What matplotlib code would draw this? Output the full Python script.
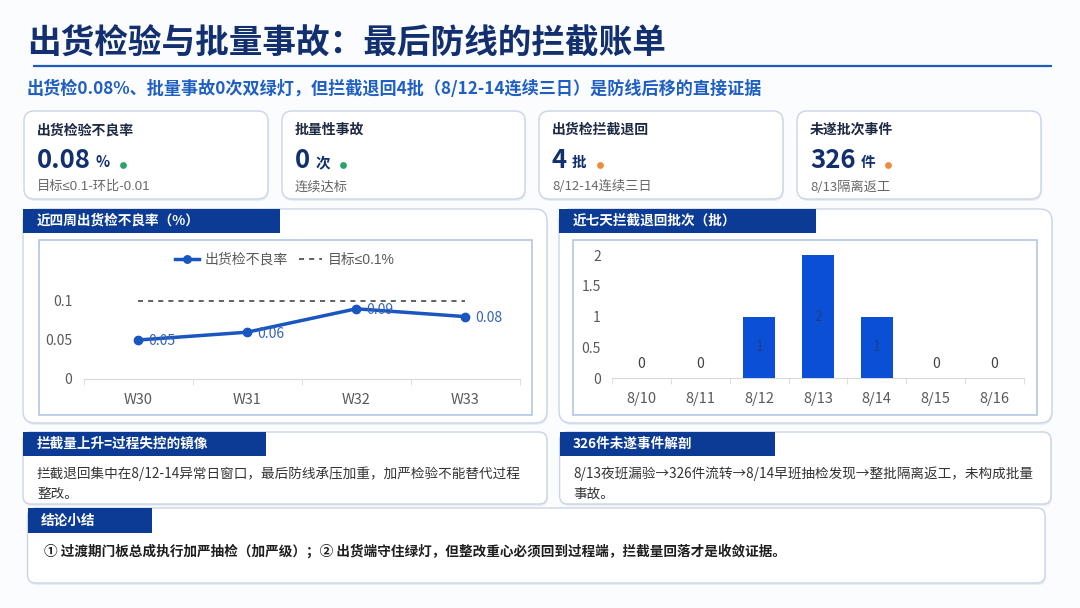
import matplotlib
matplotlib.use('Agg')
import matplotlib.pyplot as plt
from matplotlib.patches import FancyBboxPatch, Rectangle
from matplotlib.ticker import FuncFormatter

plt.rcParams['font.family'] = ['Noto Sans CJK SC', 'DejaVu Sans']
plt.rcParams['axes.unicode_minus'] = False

W, H = 1080, 608

# ---- 数据 ----
title = '出货检验与批量事故：最后防线的拦截账单'
subtitle = '出货检0.08%、批量事故0次双绿灯，但拦截退回4批（8/12-14连续三日）是防线后移的直接证据'

kpi_names = ['出货检验不良率', '批量性事故', '出货检拦截退回', '未遂批次事件']
kpi_values = ['0.08', '0', '4', '326']
kpi_units = ['%', '次', '批', '件']
kpi_notes = ['目标≤0.1-环比-0.01', '连续达标', '8/12-14连续三日', '8/13隔离返工']
kpi_status = ['good', 'good', 'warn', 'warn']

weeks = ['W30', 'W31', 'W32', 'W33']
defect_rate = [0.05, 0.06, 0.09, 0.08]
target = 0.1

days = ['8/10', '8/11', '8/12', '8/13', '8/14', '8/15', '8/16']
rejects = [0, 0, 1, 2, 1, 0, 0]

line_title = '近四周出货检不良率（%）'
bar_title = '近七天拦截退回批次（批）'
note1_title = '拦截量上升=过程失控的镜像'
note1_lines = ['拦截退回集中在8/12-14异常日窗口，最后防线承压加重，加严检验不能替代过程', '整改。']
note2_title = '326件未遂事件解剖'
note2_lines = ['8/13夜班漏验→326件流转→8/14早班抽检发现→整批隔离返工，未构成批量', '事故。']
summary_title = '结论小结'
summary_text = '① 过渡期门板总成执行加严抽检（加严级）；② 出货端守住绿灯，但整改重心必须回到过程端，拦截量回落才是收敛证据。'

NAVY = '#12306f'
HEAD = '#0b3b94'
BORDER = '#c9d4e8'
GRAY = '#595959'
LATIN_FIRST = ['Liberation Sans', 'Noto Sans CJK SC', 'DejaVu Sans']

fig = plt.figure(figsize=(10.8, 6.08), dpi=100)
fig.patch.set_facecolor('#fbfcfe')
bg = fig.add_axes([0, 0, 1, 1])
bg.set_xlim(0, W)
bg.set_ylim(H, 0)
bg.axis('off')


def rbox(x0, y0, x1, y1, r=10, ec=BORDER, lw=1.0, shadow=True):
    if shadow:
        bg.add_patch(FancyBboxPatch((x0 + 1, y0 + 2), x1 - x0, y1 - y0,
                                    boxstyle=f'round,pad=0,rounding_size={r}',
                                    fc='#e9edf4', ec='none', zorder=1))
    bg.add_patch(FancyBboxPatch((x0, y0), x1 - x0, y1 - y0,
                                boxstyle=f'round,pad=0,rounding_size={r}',
                                fc='white', ec=ec, lw=lw, zorder=2))


def header(x0, y0, x1, y1, text, tx):
    bg.add_patch(Rectangle((x0, y0), x1 - x0, y1 - y0, fc=HEAD, ec='none', zorder=3))
    bg.text(tx, (y0 + y1) / 2, text, color='white', fontsize=9.8,
            fontweight='bold', va='center', ha='left', zorder=4)


def px_axes(x0, y0, x1, y1):
    a = fig.add_axes([x0 / W, 1 - y1 / H, (x1 - x0) / W, (y1 - y0) / H])
    a.set_facecolor('none')
    a.set_zorder(5)
    return a


# ---- 标题 ----
bg.text(27, 44, title, fontsize=24.2, fontweight='bold', color=NAVY, va='center')
bg.plot([33, 1052], [66, 66], color='#1f5bb8', lw=1.6, solid_capstyle='butt')
bg.text(27, 89, subtitle, fontsize=12.3, fontweight='bold', color='#1f5fc4', va='center')

# ---- KPI 卡片 ----
card_x = [(24, 268), (282, 525), (539, 783), (797, 1041)]
dot_colors = {'good': '#27a567', 'warn': '#ef8a3a'}
renderer = fig.canvas.get_renderer()
for (x0, x1), name, val, unit, note, st in zip(card_x, kpi_names, kpi_values,
                                               kpi_units, kpi_notes, kpi_status):
    rbox(x0, 111, x1, 199, r=10)
    bg.text(x0 + 13, 130, name, fontsize=10, fontweight='bold', color='#1e2a44',
            va='center', zorder=4)
    tv = bg.text(x0 + 13, 160, val, fontsize=18.5, fontweight='bold', color=NAVY,
                 va='center', zorder=4)
    vx = tv.get_window_extent(renderer=renderer).x1
    tu = bg.text(vx + 5, 162, unit, fontsize=10.5, fontweight='bold', color=NAVY,
                 va='center', zorder=4)
    ux = tu.get_window_extent(renderer=renderer).x1
    bg.scatter([ux + 13], [164.5], s=24, color=dot_colors[st], zorder=4, lw=0)
    bg.text(x0 + 13, 187, note, fontsize=9.5, color='#666666', va='center', zorder=4,
            family=LATIN_FIRST if '≤' in note else None)

# ---- 图表面板 ----
rbox(23, 209, 547, 423, r=12)
header(23, 209, 280, 233, line_title, 37)
bg.add_patch(Rectangle((38.6, 240), 532 - 38.6, 415 - 240, fc='none',
                       ec='#b3c6e6', lw=1.2, zorder=3))

rbox(559, 209, 1052, 423, r=12)
header(559, 209, 816, 233, bar_title, 573)
bg.add_patch(Rectangle((573, 240), 1037 - 573, 415 - 240, fc='none',
                       ec='#b3c6e6', lw=1.2, zorder=3))

# 折线图
ax1 = px_axes(83.6, 281.5, 519.7, 379)
xs = list(range(len(weeks)))
ln, = ax1.plot(xs, defect_rate, color='#1a56c0', lw=2.5, marker='o', ms=6,
               label='出货检不良率', zorder=4)
tg, = ax1.plot([xs[0], xs[-1]], [target, target], color='#555555', lw=1.3,
               linestyle=(0, (2.8, 2.8)), label='目标≤0.1%', zorder=3)
for x, v in zip(xs, defect_rate):
    ax1.annotate(f'{v:g}', (x, v), xytext=(7, -1), textcoords='offset points',
                 ha='left', va='center', fontsize=10, color='#3564b8', zorder=5)
ax1.set_xlim(-0.5, len(weeks) - 0.5)
ax1.set_ylim(0, 0.125)
ax1.set_xticks(xs)
ax1.set_xticklabels(weeks)
ax1.set_xticks([i - 0.5 for i in range(len(weeks) + 1)], minor=True)
ax1.set_yticks([0, 0.05, 0.1])
ax1.yaxis.set_major_formatter(FuncFormatter(lambda v, p: f'{v:g}'))
for s in ['top', 'right', 'left']:
    ax1.spines[s].set_visible(False)
ax1.spines['bottom'].set_color('#d9d9d9')
ax1.tick_params(axis='x', which='major', length=0, pad=10, labelsize=10.5, labelcolor=GRAY)
ax1.tick_params(axis='x', which='minor', length=4, color='#d9d9d9')
ax1.tick_params(axis='y', length=0, pad=8, labelsize=10, labelcolor=GRAY)
leg = ax1.legend(handles=[ln, tg], ncol=2, loc='center', frameon=False,
                 bbox_to_anchor=(285 / W, 1 - 260 / H), bbox_transform=fig.transFigure,
                 fontsize=10, labelcolor=GRAY, handlelength=1.7, handletextpad=0.4,
                 columnspacing=0.8, markerscale=0.9)
leg.get_texts()[1].set_family(LATIN_FIRST)

# 柱状图
ax2 = px_axes(612, 252, 1024, 378.3)
bx = list(range(len(days)))
ax2.bar(bx, rejects, width=0.55, color='#0a4fd6', zorder=3)
for x, v in zip(bx, rejects):
    if v > 0:
        ax2.text(x, v / 2, f'{v}', ha='center', va='center', fontsize=10,
                 color='#1c3f8c', zorder=4)
    else:
        ax2.text(x, 0.23, f'{v}', ha='center', va='center', fontsize=10,
                 color='#404040', zorder=4)
ax2.set_xlim(-0.5, len(days) - 0.5)
ax2.set_ylim(0, 2.05)
ax2.set_xticks(bx)
ax2.set_xticklabels(days)
ax2.set_xticks([i - 0.5 for i in range(len(days) + 1)], minor=True)
ax2.set_yticks([0, 0.5, 1, 1.5, 2])
ax2.yaxis.set_major_formatter(FuncFormatter(lambda v, p: f'{v:g}'))
for s in ['top', 'right', 'left']:
    ax2.spines[s].set_visible(False)
ax2.spines['bottom'].set_color('#d9d9d9')
ax2.tick_params(axis='x', which='major', length=0, pad=10, labelsize=10.5, labelcolor=GRAY)
ax2.tick_params(axis='x', which='minor', length=4, color='#d9d9d9')
ax2.tick_params(axis='y', length=0, pad=8, labelsize=10, labelcolor=GRAY)

# ---- 说明框 ----
rbox(23, 432, 547, 504, r=8)
header(23, 432, 266, 456, note1_title, 37)
for i, line in enumerate(note1_lines):
    bg.text(37, 474 + 20 * i, line, fontsize=9.8, color='#333333', va='center', zorder=4)

rbox(559.6, 432, 1051, 504, r=8)
header(559.6, 432, 775, 456, note2_title, 573)
for i, line in enumerate(note2_lines):
    bg.text(573, 474 + 20 * i, line, fontsize=9.8, color='#333333', va='center', zorder=4)

rbox(27.5, 508, 1045, 583, r=8)
header(27.5, 508, 151.5, 533, summary_title, 41)
bg.text(44, 551, summary_text, fontsize=9.8, fontweight='bold', color='#1e1e1e',
        va='center', zorder=4)

fig.savefig('out.png', dpi=100, facecolor=fig.get_facecolor())
